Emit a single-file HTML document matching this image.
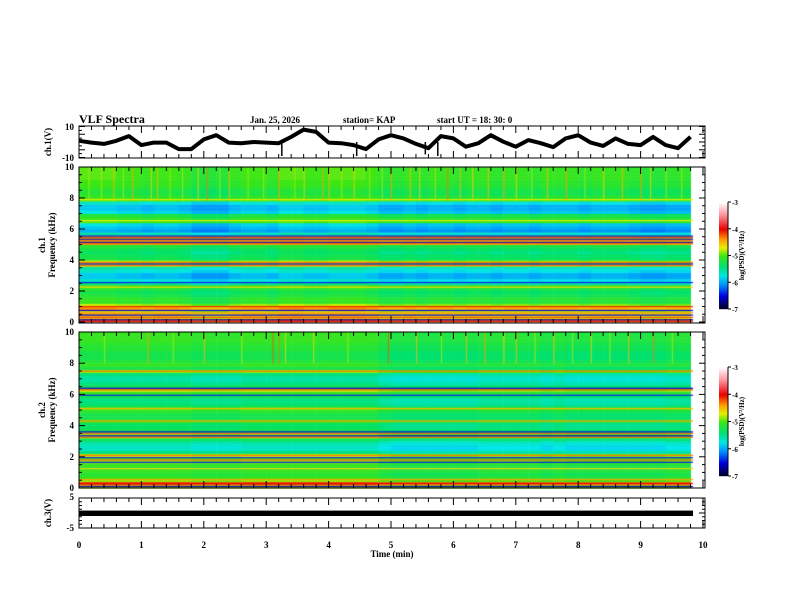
<!DOCTYPE html>
<html><head><meta charset="utf-8">
<style>
body{margin:0;background:#fff;width:792px;height:612px;overflow:hidden;position:relative;font-family:"Liberation Serif",serif;}
svg,canvas{position:absolute;left:0;top:0;}
text{font-family:"Liberation Serif",serif;font-weight:bold;fill:#000;}
</style></head>
<body>
<canvas id="spec1" width="792" height="612"></canvas>
<canvas id="spec2" width="792" height="612"></canvas>
<svg id="chart" width="792" height="612"></svg>
<script>
// ---- data ----
const ch1Times = [0,0.2,0.4,0.6,0.8,1.0,1.2,1.4,1.6,1.8,2.0,2.2,2.4,2.6,2.8,3.0,3.2,3.4,3.6,3.8,4.0,4.2,4.4,4.6,4.8,5.0,5.2,5.4,5.6,5.8,6.0,6.2,6.4,6.6,6.8,7.0,7.2,7.4,7.6,7.8,8.0,8.2,8.4,8.6,8.8,9.0,9.2,9.4,9.6,9.8];
const ch1Volts = [0.8,-0.4,-1.2,0.8,3.8,-2,-0.4,-0.4,-4.6,-4.6,1.7,4.4,-0.4,-0.8,0,-0.4,-0.8,3.3,8,6.5,-0.4,-0.8,-2,-4.6,1.7,4.4,2.3,-1.2,-4,3.8,2.3,-3,-0.8,4.4,0.2,-3,1.2,-0.8,-3.3,2.3,4.4,-0.4,-2.5,2.3,-1.2,-2,3.3,-2,-4,3.3];
const ch1SpikeTimes = [3.25,5.55,5.75,4.45];
const ch1SpikeVolts = [-9,-8,-9,-9];
const ch3Level = [-0.1];
const ch3End = [9.84];
const ch1Profile = [-4.3,-4.6,-4.5,-4.7,-4.4,-4.8,-5.1,-5.1,-5.2,-5.3,-5.2,-5.0,-5.5,-5.7,-5.9,-5.9,-5.7,-5.6,-4.8,-4.8,-5.3,-5.3,-5.4,-5.3,-5.2,-4.6,-4.6,-4.7,-5.6,-6.0,-5.9,-5.8,-5.0,-5.1,-5.2,-5.8,-5.9,-5.9,-5.7,-5.0,-5.1,-5.2,-5.2,-5.1,-5.05,-5.05,-5.0,-5.0,-5.0,-5.0];
const ch2Profile = [-4.8,-4.2,-4.9,-5.1,-5.2,-5.1,-5.2,-5.1,-4.9,-5.0,-4.8,-5.5,-5.7,-5.7,-5.6,-5.4,-4.9,-4.9,-5.3,-5.4,-5.4,-5.1,-5.3,-5.3,-5.2,-5.0,-5.4,-5.5,-5.5,-5.3,-5.1,-4.8,-5.3,-5.5,-5.6,-5.6,-5.5,-4.9,-5.3,-5.1,-5.2,-5.3,-5.3,-5.3,-5.2,-5.2,-5.15,-5.1,-5.1,-5.1];
const ch1TimeOffset = [0.05,0.05,0.05,0,0,-0.05,0,0,-0.05,-0.15,-0.15,-0.15,-0.05,0,0,-0.05,0.05,0.05,0,0,0.05,0.05,0.05,0,-0.1,-0.1,-0.05,-0.1,-0.05,-0.05,-0.1,-0.05,-0.05,-0.1,-0.05,-0.05,-0.1,-0.05,-0.05,-0.05,-0.1,-0.05,-0.05,-0.05,-0.1,-0.15,-0.15,-0.1,-0.1];
const ch2TimeOffset = [0.05,0.05,0.05,0.05,0.05,0.05,0.05,0.05,0.05,0,0,0,0,0.05,0.05,0.05,0.05,0.05,0.05,0.05,0.05,0.05,0.05,0.05,-0.05,-0.1,-0.1,-0.1,-0.1,-0.1,-0.1,-0.1,-0.05,-0.05,-0.05,-0.05,-0.05,-0.1,-0.05,-0.1,-0.1,-0.1,-0.1,-0.1,-0.1,-0.1,-0.1,-0.05,-0.05];
const ch1LineFreqs = [0.05,0.15,0.3,0.45,0.6,0.75,1.0,2.25,2.55,3.65,3.75,3.85,5.05,5.15,5.25,5.35,5.45,5.55,6.55,7.9];
const ch1LineLevels = [-4.0,-6.6,-4.2,-6.5,-4.4,-6.5,-4.1,-4.6,-6.4,-4.3,-6.5,-4.3,-4.2,-6.6,-4.3,-6.6,-4.2,-6.5,-4.7,-4.7];
const ch2LineFreqs = [0.1,0.3,0.55,1.25,1.65,1.8,1.95,2.1,3.25,3.35,3.5,3.6,4.3,5.1,5.95,6.3,6.4,7.5];
const ch2LineLevels = [-6.6,-4.0,-4.4,-4.6,-6.4,-4.3,-6.4,-4.3,-4.3,-6.5,-4.3,-6.5,-4.4,-4.5,-6.4,-4.2,-6.5,-4.3];
const ch1SpikeT = [0.15,0.35,0.55,0.7,0.85,1.15,1.25,1.45,1.65,1.9,2.05,2.25,2.4,2.7,2.95,3.2,3.45,3.6,3.9,4.0,4.2,4.4,4.65,4.85,5.0,5.3,5.45,5.7,5.9,6.1,6.3,6.55,6.8,7.0,7.25,7.5,7.8,8.1,8.4,8.7,9.0,9.15,9.4,9.65];
const ch1SpikeLvl = [-4.8,-4.8,-4.5,-4.8,-4.4,-4.6,-4.5,-4.8,-4.8,-4.6,-4.3,-4.8,-4.5,-4.8,-4.8,-4.4,-4.8,-4.6,-4.4,-4.5,-4.8,-4.6,-4.8,-4.8,-4.4,-4.5,-4.6,-4.8,-4.3,-4.5,-4.6,-4.5,-4.4,-4.6,-4.8,-4.5,-4.4,-4.8,-4.6,-4.5,-4.4,-4.6,-4.8,-4.8];
const ch2SpikeT = [0.4,1.1,1.5,2.0,2.6,3.1,3.2,3.3,3.75,4.3,4.95,5.4,5.8,6.2,6.5,6.8,7.0,7.3,7.6,7.9,8.2,8.5,8.8,9.2,9.5];
const ch2SpikeLvl = [-4.8,-4.4,-4.8,-4.5,-4.8,-4.2,-4.3,-4.6,-4.6,-4.8,-4.2,-4.5,-4.8,-4.5,-4.4,-4.6,-4.5,-4.8,-4.5,-4.8,-4.6,-4.8,-4.5,-4.3,-4.8];
const cbTicks = [-3,-4,-5,-6,-7];
const xTicks = [0,1,2,3,4,5,6,7,8,9,10];
const fTicks = [0,2,4,6,8,10];

const X = t => 79 + t*62.4;
const Y1 = v => 142 - v*1.55;
const F1 = f => 322 - f*15.5;
const F2 = f => 488 - f*15.6;
const Y3 = v => 513 - v*3;
const tEnd = 9.84;

const stops=[[-7,0,0,30],[-6.5,0,0,225],[-6.1,0,140,255],[-5.75,0,230,230],[-5.4,0,225,110],[-5.0,60,230,20],[-4.7,230,240,0],[-4.4,255,160,0],[-4.0,235,0,0],[-3.5,250,140,150],[-3.0,255,255,255]];
function cmap(v){
  v=Math.max(-7,Math.min(-3,v));
  for(let i=0;i<stops.length-1;i++){const a=stops[i],b=stops[i+1];
    if(v<=b[0]){const k=(v-a[0])/(b[0]-a[0]);
      return `rgb(${Math.round(a[1]+k*(b[1]-a[1]))},${Math.round(a[2]+k*(b[2]-a[2]))},${Math.round(a[3]+k*(b[3]-a[3]))})`;}}
  return 'rgb(255,255,255)';
}
function drawSpec(id,F,profile,toff,lf,ll,st,sl,spikeBottom){
  const c=document.getElementById(id).getContext('2d');
  for(let j=0;j<toff.length;j++){
    const x0=X(j*0.2), x1=X(Math.min((j+1)*0.2,tEnd));
    for(let i=0;i<profile.length;i++){
      const y0=F(i*0.2+0.2), y1=F(i*0.2);
      c.fillStyle=cmap(profile[i]+toff[j]);
      c.fillRect(x0,y0,x1-x0+0.5,y1-y0+0.5);
    }
  }
  for(let k=0;k<lf.length;k++){c.fillStyle=cmap(ll[k]);c.fillRect(X(0),F(lf[k])-0.5,X(tEnd)-X(0),1.2);}
  c.globalAlpha=0.7;
  for(let k=0;k<st.length;k++){c.fillStyle=cmap(sl[k]);c.fillRect(X(st[k]),F(10),1.2,F(spikeBottom)-F(10));}
  c.globalAlpha=1;
}
drawSpec('spec1',F1,ch1Profile,ch1TimeOffset,ch1LineFreqs,ch1LineLevels,ch1SpikeT,ch1SpikeLvl,7.8);
drawSpec('spec2',F2,ch2Profile,ch2TimeOffset,ch2LineFreqs,ch2LineLevels,ch2SpikeT,ch2SpikeLvl,8.0);

const svg=document.getElementById('chart');
const NS='http://www.w3.org/2000/svg';
function el(tag,attrs,txt){const e=document.createElementNS(NS,tag);for(const k in attrs)e.setAttribute(k,attrs[k]);if(txt!==undefined)e.textContent=txt;svg.appendChild(e);return e;}

const frames=[[126,158,'ch1-voltage-panel'],[167,323,'ch1-spectrogram-frame'],[332,488,'ch2-spectrogram-frame'],[498,528,'ch3-voltage-panel']];
frames.forEach(f=>{
  const r=el('rect',{x:79,y:f[0],width:626,height:f[1]-f[0],fill:'none',stroke:'#000','stroke-width':1});
  
  
  for(let t=0;t<=10.001;t+=0.2){
    const major=Math.abs(t-Math.round(t))<0.01, L=major?7:4;
    el('line',{x1:X(t),x2:X(t),y1:f[0],y2:f[0]+L,stroke:'#000'});
    el('line',{x1:X(t),x2:X(t),y1:f[1],y2:f[1]-L,stroke:'#000'});
  }
});
function yTicks(lo,hi,step,Y,majorEvery){
  for(let v=lo;v<=hi+1e-6;v+=step){const m=Math.abs(v/majorEvery-Math.round(v/majorEvery))<0.01;const L=m?6:3;
    el('line',{x1:79,x2:79+L,y1:Y(v),y2:Y(v),stroke:'#000'});el('line',{x1:705,x2:705-L,y1:Y(v),y2:Y(v),stroke:'#000'});}
}
yTicks(-10,10,2.5,Y1,5);yTicks(0,10,0.5,F1,2);yTicks(0,10,0.5,F2,2);yTicks(-5,5,1.25,Y3,5);

let d='';ch1Times.forEach((t,i)=>{d+=(i?'L':'M')+X(t).toFixed(1)+' '+Y1(ch1Volts[i]).toFixed(1);});
const tr=el('path',{d:d,fill:'none',stroke:'#000','stroke-width':4,'stroke-linejoin':'round'});


ch1SpikeTimes.forEach((t,i)=>{el('line',{x1:X(t),x2:X(t),y1:Y1(0),y2:Y1(ch1SpikeVolts[i]),stroke:'#000','stroke-width':1.5});});
const bar=el('rect',{x:X(0),y:Y3(ch3Level[0]+0.9),width:X(ch3End[0])-X(0),height:Y3(-0.9)-Y3(0.9),fill:'#000'});



function T(x,y,s,size,name,extra){const e=el('text',Object.assign({x:x,y:y,'font-size':size},extra||{}),s);return e;}
T(79,123,'VLF Spectra',12,'chart-title');
T(250,123,'Jan. 25, 2026',9,'date-label');
T(343,123,'station= KAP',9,'station-label');
T(437,123,'start UT =   18: 30: 0',9,'start-time-label',{'xml:space':'preserve'});
T(74,130,'10',9,'ch1-ytick-max',{'text-anchor':'end'});
T(74,161,'-10',9,'ch1-ytick-min',{'text-anchor':'end'});
T(74,500,'5',9,'ch3-ytick-max',{'text-anchor':'end'});
T(74,531,'-5',9,'ch3-ytick-min',{'text-anchor':'end'});
fTicks.forEach(f=>{T(74,F1(f)+3,String(f),9,'ch1-freq-tick',{'text-anchor':'end'});T(74,F2(f)+3,String(f),9,'ch2-freq-tick',{'text-anchor':'end'});});
xTicks.forEach(t=>T(X(t),548,String(t),9,'x-tick-label',{'text-anchor':'middle'}));
T(392,557,'Time  (min)',9,'x-axis-title',{'text-anchor':'middle','xml:space':'preserve'});
T(51,142,'ch.1(V)',9,'ch1-y-title',{'text-anchor':'middle',transform:'rotate(-90 51 142)'});
T(45,245,'ch.1',9,'ch1-spec-title',{'text-anchor':'middle',transform:'rotate(-90 45 245)'});
T(55,245,'Frequency  (kHz)',9,'ch1-freq-axis-title',{'text-anchor':'middle','xml:space':'preserve',transform:'rotate(-90 55 245)'});
T(45,410,'ch.2',9,'ch2-spec-title',{'text-anchor':'middle',transform:'rotate(-90 45 410)'});
T(55,410,'Frequency  (kHz)',9,'ch2-freq-axis-title',{'text-anchor':'middle','xml:space':'preserve',transform:'rotate(-90 55 410)'});
T(51,513,'ch.3(V)',9,'ch3-y-title',{'text-anchor':'middle',transform:'rotate(-90 51 513)'});

function colorbar(y0,y1,name){
  const h=y1-y0;
  for(let k=0;k<h;k++){const v=-3-4*(k/h);el('rect',{x:719,y:y0+k,width:9,height:1.2,fill:cmap(v)});}
  const fr=el('line',{x1:728,x2:728,y1:y0,y2:y1,stroke:'#000'});
  
  
  cbTicks.forEach(v=>{const y=y0+(-3-v)/4*h;el('line',{x1:728,x2:731,y1:y,y2:y,stroke:'#000'});T(732,y+3,String(v),7,name+'-tick');});
  const cy=(y0+y1)/2;
  T(744,cy,'log(PSD)(V\u00B2/Hz)',7,name+'-title',{'text-anchor':'middle',transform:`rotate(-90 744 ${cy})`});
}
colorbar(202,309,'ch1-colorbar');
colorbar(367,476,'ch2-colorbar');
</script>
</body></html>
